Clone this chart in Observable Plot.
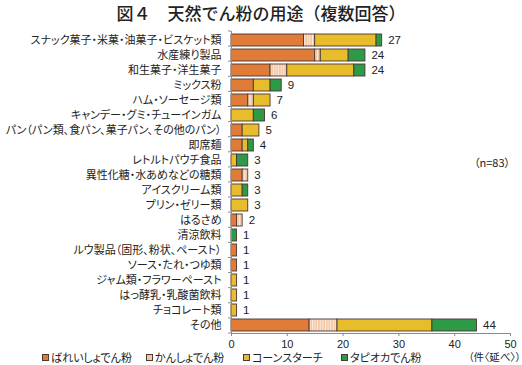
<!DOCTYPE html>
<html><head><meta charset="utf-8">
<script src="https://cdn.jsdelivr.net/npm/d3@7"></script>
<script src="https://cdn.jsdelivr.net/npm/@observablehq/plot@0.6"></script>
<style>
body{margin:0;background:#fff;}
#wrap{position:relative;width:522px;height:365px;font-family:"Noto Sans CJK JP",sans-serif;font-feature-settings:"palt";color:#222;}
#wrap svg{position:absolute;left:0;top:0;}
#title{position:absolute;left:0;width:522px;top:0px;text-align:center;font-size:17px;font-weight:500;font-feature-settings:normal;}
#note{position:absolute;left:474px;top:154px;font-size:11px;}
.lg{position:absolute;top:349px;font-size:11px;white-space:nowrap;}
.sw{display:inline-block;width:5px;height:5px;border:1px solid #4a3a34;margin-right:2px;vertical-align:1px;}
</style></head>
<body>
<div id="wrap"></div>
<script>
const categories = [
  "スナック菓子・米菓・油菓子・ビスケット類",
  "水産練り製品",
  "和生菓子・洋生菓子",
  "ミックス粉",
  "ハム・ソーセージ類",
  "キャンデー・グミ・チューインガム",
  "パン（パン類、食パン、菓子パン、その他のパン）",
  "即席麺",
  "レトルトパウチ食品",
  "異性化糖・水あめなどの糖類",
  "アイスクリーム類",
  "プリン・ゼリー類",
  "はるさめ",
  "清涼飲料",
  "ルウ製品（固形、粉状、ペースト）",
  "ソース・たれ・つゆ類",
  "ジャム類・フラワーペースト",
  "はっ酵乳・乳酸菌飲料",
  "チョコレート類",
  "その他"
];
const seriesNames = ["ばれいしょでん粉", "かんしょでん粉", "コーンスターチ", "タピオカでん粉"];
const potato  = [13, 15, 7, 4, 3, 0, 2, 2, 0, 2, 0, 0, 1, 0, 1, 1, 0, 0, 0, 14];
const sweet   = [ 2,  1, 3, 0, 1, 0, 0, 0, 0, 1, 0, 0, 1, 0, 0, 0, 0, 0, 0, 5];
const corn    = [11,  5,12, 3, 3, 4, 3, 1, 1, 0, 2, 3, 0, 0, 0, 0, 1, 1, 1, 17];
const tapioca = [ 1,  3, 2, 2, 0, 2, 0, 1, 2, 0, 1, 0, 0, 1, 0, 0, 0, 0, 0, 8];
const totals  = [27, 24, 24, 9, 7, 6, 5, 4, 3, 3, 3, 3, 2, 1, 1, 1, 1, 1, 1, 44];
const xTicks = [0, 10, 20, 30, 40, 50];
const colors = ["#E07B38", "url(#hatch)", "#E8BD2C", "#2E9A47"];

const rows = [];
const seriesArrays = [potato, sweet, corn, tapioca];
categories.forEach((c, i) => {
  seriesArrays.forEach((arr, k) => {
    if (arr[i] > 0) rows.push({cat: c, series: seriesNames[k], value: arr[i]});
  });
});

const axisLines = (index, scales, values, dims) => {
  const g = d3.create("svg:g").attr("stroke", "#8a8a8a").attr("stroke-width", 1);
  const x0 = dims.marginLeft, x1 = dims.width - dims.marginRight;
  const y0 = dims.marginTop, y1 = dims.height - dims.marginBottom;
  g.append("line").attr("x1", x0 + 0.5).attr("x2", x0 + 0.5).attr("y1", y0).attr("y2", y1);
  g.append("line").attr("x1", x0).attr("x2", x1).attr("y1", y1 + 0.5).attr("y2", y1 + 0.5);
  const n = categories.length;
  for (let i = 0; i <= n; i++) {
    const y = y0 + (y1 - y0) * i / n;
    g.append("line").attr("x1", x0 - 3).attr("x2", x0).attr("y1", y).attr("y2", y);
  }
  return g.node();
};

const svg = Plot.plot({
  width: 522,
  height: 365,
  marginLeft: 231,
  marginRight: 12,
  marginTop: 31,
  marginBottom: 32,
  style: {fontFamily: "'Noto Sans CJK JP', sans-serif", fontSize: "11px", color: "#222", background: "transparent"},
  x: {domain: [0, 50], ticks: xTicks, label: null},
  y: {domain: categories, paddingInner: 0.2, paddingOuter: 0.1, label: null},
  color: {type: "ordinal", domain: seriesNames, range: colors},
  marks: [
    Plot.barX(rows, Plot.stackX({x: "value", y: "cat", fill: "series", order: seriesNames, stroke: "#4a3530", strokeWidth: 0.9})),
    Plot.text(categories, {x: (d, i) => totals[i], y: d => d, text: (d, i) => String(totals[i]), dx: 6, textAnchor: "start", fontSize: 11.5, fill: "#222", fontFamily: "'Liberation Sans', Arial, sans-serif"}),
    Plot.axisY({tickSize: 0, tickPadding: 10, fontSize: 11, label: null}),
    Plot.axisX({ticks: xTicks, tickSize: 3, tickPadding: 4, fontSize: 11, label: null, stroke: "#8a8a8a", fontFamily: "'Liberation Sans', Arial, sans-serif"}),
    axisLines
  ]
});

const defs = d3.select(svg).insert("defs", ":first-child");
const pat = defs.append("pattern").attr("id", "hatch").attr("patternUnits", "userSpaceOnUse")
  .attr("width", 2.6).attr("height", 6);
pat.append("rect").attr("width", 2.6).attr("height", 6).attr("fill", "#F4C6A4");
pat.append("rect").attr("x", 0).attr("width", 1).attr("height", 6).attr("fill", "#FCEBDD");
d3.select(svg).selectAll("text").style("font-feature-settings", "'palt'");

const wrap = document.getElementById("wrap");
wrap.appendChild(svg);

const title = document.createElement("div");
title.id = "title";
title.textContent = "図４　天然でん粉の用途（複数回答）";
wrap.appendChild(title);

const note = document.createElement("div");
note.id = "note";
note.textContent = "（n=83）";
wrap.appendChild(note);

const legendX = [42, 146, 243, 341];
const legendFill = ["#E07B38", "#F4C6A4", "#E8BD2C", "#2E9A47"];
seriesNames.forEach((s, i) => {
  const d = document.createElement("div");
  d.className = "lg";
  d.style.left = legendX[i] + "px";
  d.innerHTML = `<span class="sw" style="background:${legendFill[i]}"></span>${s}`;
  wrap.appendChild(d);
});
const unit = document.createElement("div");
unit.className = "lg";
unit.style.right = "1px";
unit.style.fontSize = "10.5px";
unit.textContent = "（件〈延べ〉）";
wrap.appendChild(unit);
</script>
</body></html>
